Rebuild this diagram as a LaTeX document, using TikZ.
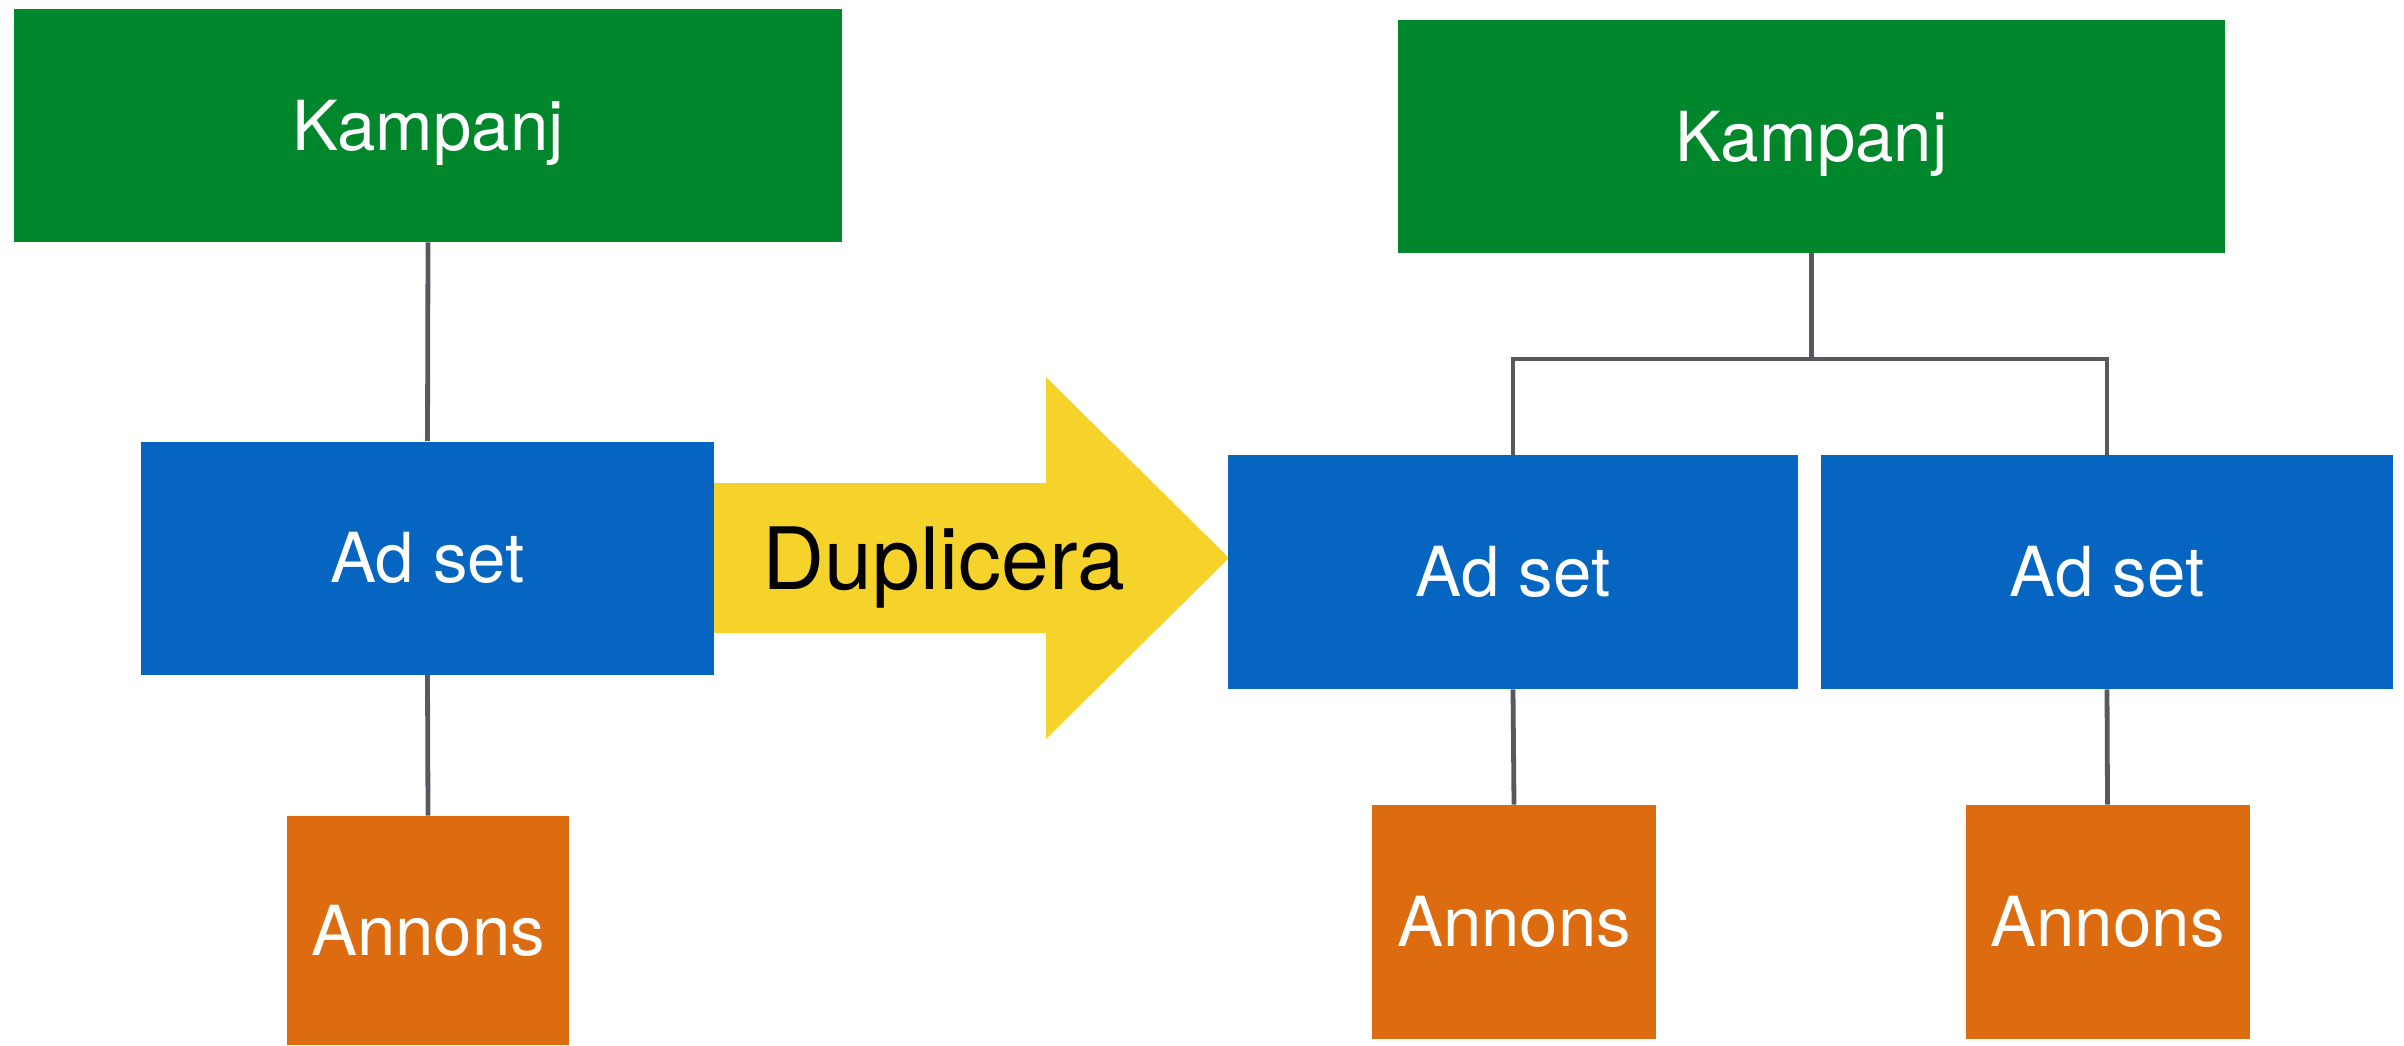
\documentclass[tikz,border=0pt]{standalone}
\usepackage{fontspec}
\setmainfont{TeX Gyre Heros}
\definecolor{kgreen}{HTML}{00872B}
\definecolor{ablue}{HTML}{0565C0}
\definecolor{norange}{HTML}{DD6B10}
\definecolor{dyellow}{HTML}{F5D32A}
\definecolor{lgray}{HTML}{555A60}
\tikzset{
  boxbase/.style={rectangle, inner sep=0pt, text=white,
    font=\fontsize{34.5}{40}\selectfont, text height=24.8pt, text depth=0pt},
  kbox/.style={boxbase, fill=kgreen, minimum width=414pt, minimum height=116.5pt},
  abox/.style={boxbase, fill=ablue, minimum width=286pt, minimum height=117pt},
  nbox/.style={boxbase, fill=norange, minimum width=142pt, minimum height=117pt},
  conn/.style={draw=lgray, line width=2.4pt},
  bigarrow/.style={fill=dyellow},
}
\begin{document}
\begin{tikzpicture}[x=0.5pt,y=-0.5pt]
\useasboundingbox (0,0) rectangle (2404,1045);
% left tree
\node[kbox] (k1) at (428,125.5) {Kampanj};
\node[abox, minimum width=286.5pt, minimum height=116.5pt] (a1) at (427.5,558) {Ad set};
\node[nbox, minimum width=141pt, minimum height=114.5pt] (n1) at (428,930.5) {Annons};
\draw[conn] (k1.south) -- (a1.north);
\draw[conn] (a1.south) -- (n1.north);
% arrow
\fill[bigarrow] (714,483) -- (1046,483) -- (1046,377) -- (1229,558) -- (1046,739) -- (1046,633) -- (714,633) -- cycle;
\node[anchor=base, inner sep=0pt, font=\fontsize{43}{50}\selectfont] (dup) at (944,589) {Duplicera};
% right tree
\node[kbox, minimum width=413.5pt] (k2) at (1811.5,136.5) {Kampanj};
\node[abox, minimum width=285pt] (a2) at (1513,572) {Ad set};
\node[abox] (a3) at (2107,572) {Ad set};
\node[nbox] (n2) at (1514,922) {Annons};
\node[nbox] (n3) at (2107.5,922) {Annons};
\coordinate (j) at (1811.5,359);
\draw[conn] (k2.south) -- (j);
\draw[conn] (a2.north) |- (j) -| (a3.north);
\draw[conn] (a2.south) -- (n2.north);
\draw[conn] (a3.south) -- (n3.north);
\end{tikzpicture}
\end{document}
